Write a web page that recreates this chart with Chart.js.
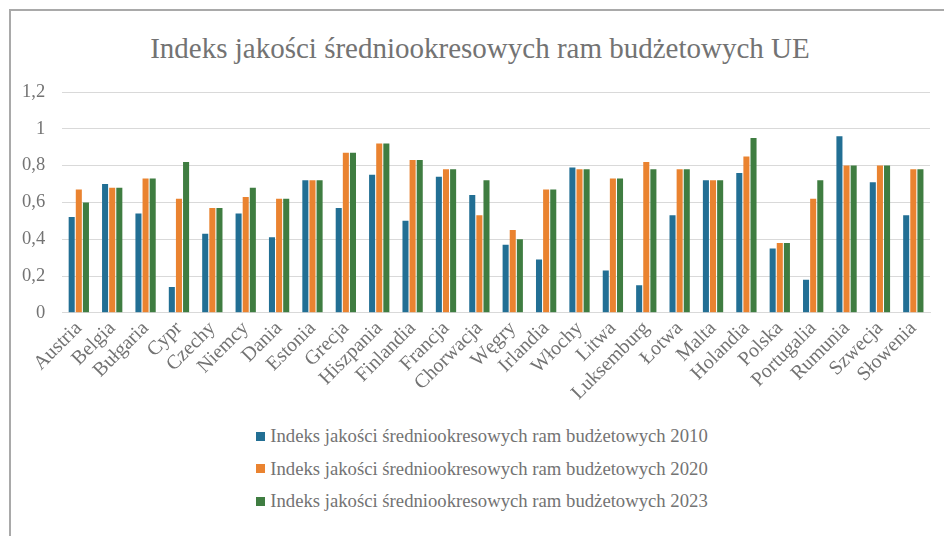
<!DOCTYPE html>
<html>
<head>
<meta charset="utf-8">
<script src="https://cdn.jsdelivr.net/npm/chart.js@4"></script>
<style>
  html, body { margin: 0; padding: 0; background: #fff; overflow: hidden; }
  body { width: 944px; height: 536px; position: relative; font-family: "Liberation Serif", serif; }
  .frame { position: absolute; left: 9px; top: 9px; width: 980px; height: 600px; border: 2px solid #a9a9a9; }
  .title { position: absolute; left: 0; top: 31px; width: 960px; text-align: center; color: #737373;
           font-size: 29px; line-height: 34px; white-space: nowrap; }
  .chart-box { position: absolute; left: 5px; top: 11px; width: 939px; height: 398px; }
  .legend { position: absolute; left: 0; top: 420px; width: 944px; color: #737373; font-size: 18.7px; }
  .legend-row { display: flex; justify-content: center; align-items: center; height: 32.5px; }
  .legend-row span.box { width: 9px; height: 9px; margin-right: 5px; margin-left: 20px; }
</style>
</head>
<body>
<div class="frame"></div>
<div class="title">Indeks jakości średniookresowych ram budżetowych UE</div>
<div class="chart-box"><canvas id="chart"></canvas></div>
<div class="legend" id="legend"></div>
<script>
// countries (x axis)
const countries = ['Austria', 'Belgia', 'Bułgaria', 'Cypr', 'Czechy', 'Niemcy', 'Dania', 'Estonia',
  'Grecja', 'Hiszpania', 'Finlandia', 'Francja', 'Chorwacja', 'Węgry', 'Irlandia', 'Włochy',
  'Litwa', 'Luksemburg', 'Łotwa', 'Malta', 'Holandia', 'Polska', 'Portugalia', 'Rumunia',
  'Szwecja', 'Słowenia'];

const index2010 = [0.52, 0.70, 0.54, 0.14, 0.43, 0.54, 0.41, 0.72, 0.57, 0.75, 0.50, 0.74, 0.64, 0.37,
  0.29, 0.79, 0.23, 0.15, 0.53, 0.72, 0.76, 0.35, 0.18, 0.96, 0.71, 0.53];
const index2020 = [0.67, 0.68, 0.73, 0.62, 0.57, 0.63, 0.62, 0.72, 0.87, 0.92, 0.83, 0.78, 0.53, 0.45,
  0.67, 0.78, 0.73, 0.82, 0.78, 0.72, 0.85, 0.38, 0.62, 0.80, 0.80, 0.78];
const index2023 = [0.60, 0.68, 0.73, 0.82, 0.57, 0.68, 0.62, 0.72, 0.87, 0.92, 0.83, 0.78, 0.72, 0.40,
  0.67, 0.78, 0.73, 0.78, 0.78, 0.72, 0.95, 0.38, 0.72, 0.80, 0.80, 0.78];

const seriesLabels = [
  'Indeks jakości średniookresowych ram budżetowych 2010',
  'Indeks jakości średniookresowych ram budżetowych 2020',
  'Indeks jakości średniookresowych ram budżetowych 2023'
];
const colors = ['#226f94', '#ea8330', '#3f7d41'];

const textColor = '#737373';
const serif = '"Liberation Serif", "Times New Roman", serif';

const makeSet = (i, values) => ({
  label: seriesLabels[i],
  data: values,
  backgroundColor: colors[i],
  borderWidth: 0,
  barPercentage: 0.85,
  categoryPercentage: 0.64,
});

const chart = new Chart(document.getElementById('chart'), {
  type: 'bar',
  data: {
    labels: countries,
    datasets: [makeSet(0, index2010), makeSet(1, index2020), makeSet(2, index2023)],
  },
  options: {
    responsive: true,
    maintainAspectRatio: false,
    animation: false,
    layout: { padding: { left: 0, right: 14, top: 81, bottom: 0 } },
    plugins: {
      legend: { display: false },
      tooltip: { enabled: false },
    },
    scales: {
      x: {
        grid: { display: false, drawTicks: false },
        border: { color: '#d9d9d9', width: 1 },
        ticks: {
          color: textColor,
          font: { family: serif, size: 20 },
          minRotation: 45,
          maxRotation: 45,
          autoSkip: false,
          padding: 4,
        },
      },
      y: {
        min: 0,
        max: 1.2,
        grid: { color: '#d9d9d9', lineWidth: 1, drawTicks: false },
        border: { display: false },
        ticks: {
          stepSize: 0.2,
          color: textColor,
          font: { family: serif, size: 18.5 },
          padding: 17,
          callback: (v) => Number(v.toFixed(1)).toString().replace('.', ','),
        },
      },
    },
  },
});

// legend built from the datasets, one series per row
const legendEl = document.getElementById('legend');
chart.data.datasets.forEach((ds) => {
  const row = document.createElement('div');
  row.className = 'legend-row';
  const box = document.createElement('span');
  box.className = 'box';
  box.style.background = ds.backgroundColor;
  const txt = document.createElement('span');
  txt.textContent = ds.label;
  row.appendChild(box);
  row.appendChild(txt);
  legendEl.appendChild(row);
});
</script>
</body>
</html>
